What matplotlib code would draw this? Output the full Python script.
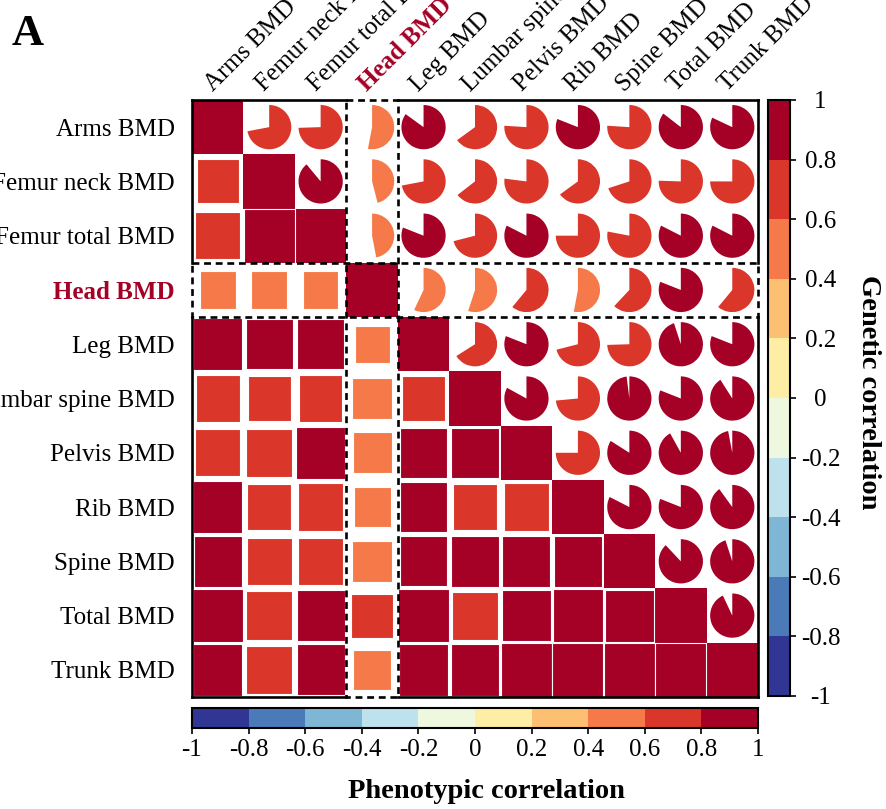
import numpy as np
import matplotlib.pyplot as plt
from matplotlib.colors import ListedColormap, BoundaryNorm
from matplotlib.patches import Rectangle, Wedge
from matplotlib.transforms import Affine2D
import matplotlib.cm as cm

plt.rcParams['font.family'] = ['Liberation Serif', 'DejaVu Serif']

traits = ['Arms BMD', 'Femur neck BMD', 'Femur total BMD', 'Head BMD', 'Leg BMD',
          'Lumbar spine BMD', 'Pelvis BMD', 'Rib BMD', 'Spine BMD', 'Total BMD', 'Trunk BMD']
highlight = 'Head BMD'

# genetic correlation, upper triangle (row i -> columns i+1 ... 10), drawn as pies
gen_corr = [
    [0.72, 0.745, 0.53, 0.85, 0.65, 0.76, 0.81, 0.76, 0.855, 0.82],
    [0.89, 0.46, 0.72, 0.645, 0.77, 0.65, 0.70, 0.755, 0.75],
    [0.47, 0.81, 0.71, 0.825, 0.75, 0.78, 0.825, 0.825],
    [0.57, 0.55, 0.61, 0.53, 0.62, 0.81, 0.61],
    [0.66, 0.81, 0.71, 0.745, 0.95, 0.81],
    [0.83, 0.735, 0.98, 0.81, 0.91],
    [0.75, 0.84, 0.92, 0.97],
    [0.825, 0.81, 0.90],
    [0.88, 0.95],
    [0.93],
]
# phenotypic correlation, lower triangle (row i -> columns 0 ... i-1), drawn as squares
phe_corr = [
    [0.66],
    [0.76, 0.99],
    [0.50, 0.48, 0.48],
    [0.92, 0.84, 0.85, 0.46],
    [0.73, 0.70, 0.72, 0.58, 0.70],
    [0.76, 0.78, 0.90, 0.57, 0.84, 0.86],
    [0.90, 0.74, 0.76, 0.52, 0.84, 0.74, 0.78],
    [0.87, 0.76, 0.76, 0.58, 0.84, 0.90, 0.87, 0.90],
    [0.94, 0.79, 0.87, 0.66, 0.98, 0.78, 0.90, 0.94, 0.92],
    [0.90, 0.79, 0.88, 0.56, 0.94, 0.90, 0.98, 0.98, 0.98, 0.99],
]
bounds = np.linspace(-1, 1, 11)
tick_text = ['-1', '-0.8', '-0.6', '-0.4', '-0.2', '0', '0.2', '0.4', '0.6', '0.8', '1']

cmap = ListedColormap(plt.get_cmap('RdYlBu_r')(np.linspace(0, 1, 10)))
norm = BoundaryNorm(bounds, cmap.N)
hl_col = '#A50026'

W, H = 886, 809
fig = plt.figure(figsize=(W / 100, H / 100), dpi=100)

def px_axes(x0, y0, x1, y1):
    return fig.add_axes([x0 / W, 1 - y1 / H, (x1 - x0) / W, (y1 - y0) / H])

ax = px_axes(192, 100, 758, 697)
n = len(traits)
ax.set_xlim(0, n)
ax.set_ylim(n, 0)
cw = 566 / n
ch = 597 / n

# diagonal
for i in range(n):
    ax.add_patch(Rectangle((i, i), 1, 1, facecolor=cmap(norm(1.0)), edgecolor='none'))

# squares (lower)
for i, row in enumerate(phe_corr, start=1):
    for j, v in enumerate(row):
        s = np.sqrt(abs(v))
        ax.add_patch(Rectangle((j + 0.5 - s / 2, i + 0.5 - s / 2), s, s,
                               facecolor=cmap(norm(v)), edgecolor='white', lw=0.8))

# pies (upper)
R = 0.43
for i, row in enumerate(gen_corr):
    for k, v in enumerate(row):
        j = i + 1 + k
        tr = Affine2D().scale(1, -cw / ch).translate(j + 0.5, i + 0.5) + ax.transData
        ax.add_patch(Wedge((0, 0), R, 90 - 360 * v, 90, facecolor=cmap(norm(v)),
                           edgecolor='none', transform=tr))

# borders
h = traits.index(highlight)
lw = 1.9
for a, b in [(0, h), (h + 1, n)]:
    ax.plot([a, b], [0, 0], color='black', lw=lw, clip_on=False, solid_capstyle='projecting')
    ax.plot([a, b], [n, n], color='black', lw=lw, clip_on=False, solid_capstyle='projecting')
    ax.plot([0, 0], [a, b], color='black', lw=lw, clip_on=False, solid_capstyle='projecting')
    ax.plot([n, n], [a, b], color='black', lw=lw, clip_on=False, solid_capstyle='projecting')
ax.add_patch(Rectangle((h, 0), 1, n, fill=False, edgecolor='black', lw=lw,
                       linestyle=(0, (2.6, 1.8)), clip_on=False))
ax.add_patch(Rectangle((0, h), n, 1, fill=False, edgecolor='black', lw=lw,
                       linestyle=(0, (2.6, 1.8)), clip_on=False))

for sp in ax.spines.values():
    sp.set_visible(False)
ax.set_xticks([])
ax.set_yticks(np.arange(n) + 0.5, traits, fontsize=18)
ax.tick_params(left=False, pad=9)
for t in ax.get_yticklabels():
    if t.get_text() == highlight:
        t.set_color(hl_col)
        t.set_fontweight('bold')

for j, lab in enumerate(traits):
    hl = lab == highlight
    ax.annotate(lab, xy=(j + 0.5, 0), xycoords='data', xytext=(-1, 3),
                textcoords='offset points', rotation=45, rotation_mode='anchor',
                ha='left', va='bottom', fontsize=18, annotation_clip=False,
                color=hl_col if hl else 'black', fontweight='bold' if hl else 'normal')

sm = cm.ScalarMappable(norm=norm, cmap=cmap)

# right colorbar: genetic
cax = px_axes(768, 100, 790, 696)
cb = fig.colorbar(sm, cax=cax, orientation='vertical', ticks=bounds)
cb.ax.set_yticklabels(tick_text)
cb.outline.set_linewidth(1.5)
cax.tick_params(length=4, width=1.2, pad=18, labelsize=18)
for t in cax.get_yticklabels():
    t.set_ha('center')
fig.text(869 / W, 1 - 392 / H, 'Genetic correlation', rotation=270, ha='center',
         va='center', fontweight='bold', fontsize=20.5)

# bottom colorbar: phenotypic
cax2 = px_axes(192, 708, 758, 728)
cb2 = fig.colorbar(sm, cax=cax2, orientation='horizontal', ticks=bounds)
cb2.ax.set_xticklabels(tick_text)
cb2.outline.set_linewidth(1.5)
cax2.tick_params(length=4, width=1.2, pad=4, labelsize=18)
fig.text(486 / W, 1 - 792 / H, 'Phenotypic correlation', ha='center', va='center',
         fontweight='bold', fontsize=20.5)

fig.text(12 / W, 1 - 45 / H, 'A', fontsize=32, fontweight='bold', ha='left', va='baseline')

fig.savefig('out.png', dpi=100)
